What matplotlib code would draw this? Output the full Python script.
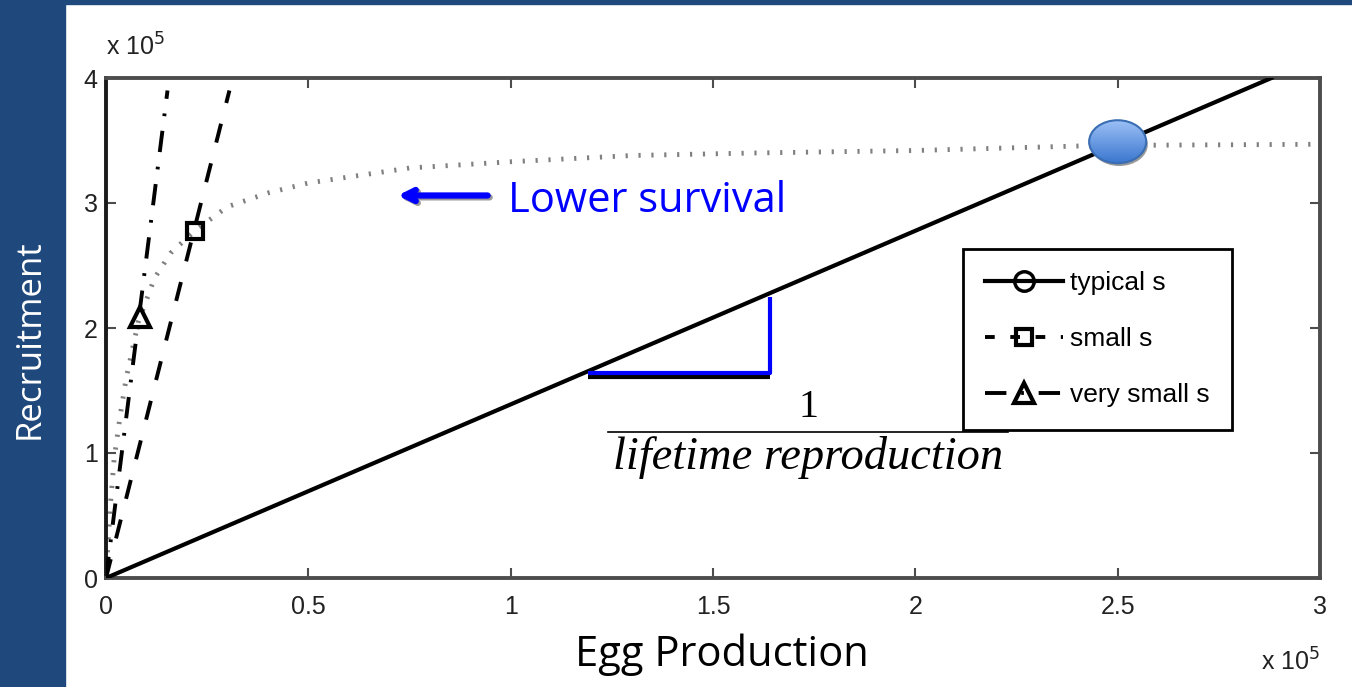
import numpy as np
import matplotlib
matplotlib.use('Agg')
import matplotlib.pyplot as plt
from matplotlib.patches import Ellipse, Rectangle
from matplotlib.lines import Line2D

# stock-recruitment curve (x 1e5 eggs, x 1e5 recruits)
curve_x = [0.0, 0.01, 0.02, 0.035, 0.05, 0.08, 0.12, 0.16, 0.22, 0.30, 0.40,
           0.50, 0.75, 1.00, 1.30, 1.60, 2.00, 2.45, 3.00]
curve_y = [0.0, 0.55, 0.95, 1.30, 1.60, 2.05, 2.40, 2.60, 2.78, 2.97, 3.08,
           3.16, 3.28, 3.33, 3.38, 3.40, 3.42, 3.46, 3.47]

# replacement lines (1 / lifetime reproduction) for each survival
typical_x = [0.0, 2.88]
typical_y = [0.0, 4.00]
small_x = [0.0, 0.305]
small_y = [0.0, 3.90]
vsmall_x = [0.0, 0.152]
vsmall_y = [0.0, 3.90]

# equilibrium points
eq_typical = (2.49, 3.47)
eq_small = (0.22, 2.78)
eq_vsmall = (0.084, 2.09)

# slope triangle corners
tri_x = [1.19, 1.64]
tri_y = [1.64, 2.25]

x_ticks = [0, 0.5, 1, 1.5, 2, 2.5, 3]
x_ticklabels = ['0', '0.5', '1', '1.5', '2', '2.5', '3']
y_ticks = [0, 1, 2, 3, 4]
legend_labels = ['typical s', 'small s', 'very small s']

navy = '#1f497d'
W, H = 1352, 687
fig = plt.figure(figsize=(W / 100, H / 100), dpi=100, facecolor='white')

# slide background strips
fig.patches.append(Rectangle((0, 0), 65 / W, 1, transform=fig.transFigure,
                             color=navy, zorder=0))
fig.patches.append(Rectangle((0, 1 - 4 / H), 1, 4 / H, transform=fig.transFigure,
                             color=navy, zorder=0))

ax = fig.add_axes([106 / W, 1 - 578 / H, (1320 - 106) / W, (578 - 78) / H])

dash_small = (0, (5.0, 5.5))
dash_vsmall = (0, (5.5, 3.8, 0.7, 3.8))

ax.plot(curve_x, curve_y, color='0.5', lw=3.5, linestyle=(0, (0.45, 2.2)),
        solid_capstyle='butt', dash_capstyle='butt', zorder=2)
ax.plot(typical_x, typical_y, color='black', lw=3, zorder=3)
ax.plot(small_x, small_y, color='black', lw=2.8, linestyle=dash_small,
        dash_capstyle='butt', zorder=3)
ax.plot(vsmall_x, vsmall_y, color='black', lw=2.8, linestyle=dash_vsmall,
        dash_capstyle='butt', zorder=3)

ax.plot(*eq_typical, marker='o', ms=14, mfc='none', mec='black', mew=2.5, zorder=4)
ax.plot(*eq_small, marker='s', ms=12, mfc='none', mec='black', mew=3, zorder=4)
ax.plot(*eq_vsmall, marker='^', ms=15, mfc='none', mec='black', mew=3, zorder=4)

# gradient ellipse over the typical equilibrium
ew, eh = 0.141, 0.344
cx, cy = eq_typical[0] + 0.01, eq_typical[1] + 0.02
shadow = Ellipse((cx + 0.004, cy - 0.022), ew, eh,
                 facecolor='#9a9a9a', edgecolor='none', zorder=5)
ax.add_patch(shadow)
ell = Ellipse((cx, cy), ew, eh, facecolor='none', edgecolor='#3b6db3', lw=1.5, zorder=7)
ax.add_patch(ell)
grad = np.linspace(0, 1, 100).reshape(-1, 1)
cmap = matplotlib.colors.LinearSegmentedColormap.from_list('g', ['#3b77cf', '#9cc0f6'])
im = ax.imshow(grad, cmap=cmap, aspect='auto', origin='lower', zorder=6,
               extent=[cx - ew / 2, cx + ew / 2, cy - eh / 2, cy + eh / 2])
im.set_clip_path(Ellipse((cx, cy), ew, eh, transform=ax.transData))

# slope triangle
ax.plot(tri_x, [tri_y[0] - 0.028] * 2, color='black', lw=3, solid_capstyle='butt', zorder=4)
ax.plot([tri_x[0], tri_x[1], tri_x[1]], [tri_y[0], tri_y[0], tri_y[1]],
        color='#0000ff', lw=3, solid_capstyle='butt', zorder=5)

# arrow and label
arrow_style = '->,head_length=0.8,head_width=0.4'
ax.annotate('', xy=(0.719, 3.045), xytext=(0.955, 3.045),
            arrowprops=dict(arrowstyle=arrow_style, color='#999999', lw=4.5), zorder=5)
ax.annotate('', xy=(0.714, 3.06), xytext=(0.95, 3.06),
            arrowprops=dict(arrowstyle=arrow_style, color='#0000ff', lw=4.5), zorder=6)
ax.text(0.993, 2.93, 'Lower survival', color='#0000ff', fontsize=30,
        family='Open Sans', va='baseline', ha='left', zorder=6)

# 1 / lifetime reproduction
ax.text(1.735, 1.29, '1', fontsize=29, family='Liberation Serif', ha='center',
        va='baseline', zorder=8)
ax.plot([1.24, 2.229], [1.168, 1.168], color='black', lw=1.2, zorder=11)
ax.text(1.735, 0.875, 'lifetime reproduction', fontsize=33.5, family='Liberation Serif',
        style='italic', ha='center', va='baseline', zorder=8)

ax.set_xlim(0, 3)
ax.set_ylim(0, 4)
ax.set_xticks(x_ticks)
ax.set_xticklabels(x_ticklabels)
ax.set_yticks(y_ticks)
ax.tick_params(direction='in', length=7, width=1.5, color='0.3', top=True, right=True,
               labelsize=18, labelcolor='#222222')
ax.tick_params(axis='x', pad=12)
ax.tick_params(axis='y', pad=6)
for lab in ax.get_xticklabels() + ax.get_yticklabels():
    lab.set_family('Liberation Sans')
for side in ['top', 'right', 'bottom']:
    ax.spines[side].set_color('0.3')
    ax.spines[side].set_linewidth(2.8)
ax.spines['left'].set_color('0.1')
ax.spines['left'].set_linewidth(2.8)

ax.text(0.0, 1.035, r'x 10$^5$', transform=ax.transAxes, fontsize=18,
        family='Liberation Sans', color='#222222', ha='left', va='bottom')
ax.text(1.0, -0.14, r'x 10$^5$', transform=ax.transAxes, fontsize=18,
        family='Liberation Sans', color='#222222', ha='right', va='top')

handles = [
    Line2D([], [], color='black', lw=3, marker='o', ms=14, mfc='none', mew=2.5),
    Line2D([], [], color='black', lw=2.8, linestyle=(0, (2.5, 4.0)), marker='s', ms=12,
           mfc='none', mew=3),
    Line2D([], [], color='black', lw=2.8, linestyle=dash_vsmall, marker='^', ms=15,
           mfc='none', mew=3),
]
leg = ax.legend(handles, legend_labels, loc='upper right', bbox_to_anchor=(0.9275, 0.658),
                borderaxespad=0, handlelength=2.95, handletextpad=0.25,
                labelspacing=1.21, borderpad=0.85, fancybox=False, framealpha=1,
                prop={'family': 'Liberation Sans', 'size': 19})
leg.get_frame().set_edgecolor('black')
leg.get_frame().set_linewidth(2)
leg.set_zorder(10)

fig.text(30 / W, 1 - 339 / H, 'Recruitment', rotation=90, color='white', fontsize=25,
         family='Open Sans', ha='center', va='center')
fig.text(722 / W, 1 - 655 / H, 'Egg Production', color='black', fontsize=30,
         family='Open Sans', ha='center', va='center')

fig.savefig('out.png', dpi=100, facecolor='white')
